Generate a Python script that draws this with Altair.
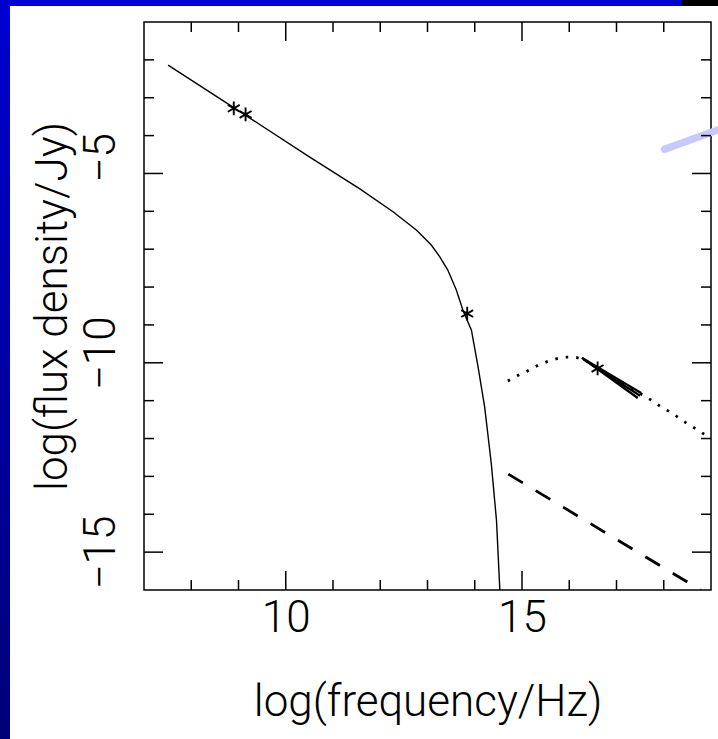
import altair as alt
import pandas as pd

# ---- data ----
# solid curve (synchrotron model)
sync_x = [7.51, 8.90, 10.50, 11.56, 12.27, 12.77, 13.08, 13.26, 13.43, 13.61, 13.75, 13.93, 14.07, 14.21, 14.35, 14.46, 14.53, 14.55]
sync_y = [-2.14, -3.26, -4.56, -5.40, -6.01, -6.50, -6.89, -7.20, -7.55, -8.08, -8.61, -9.14, -10.11, -11.17, -12.66, -14.16, -15.97, -16.30]

# dotted curve
ic_x = [14.70, 14.92, 15.11, 15.32, 15.53, 15.74, 15.95, 16.15, 16.36, 17.00, 17.74, 17.95, 18.15, 18.34, 18.51, 18.73, 18.92, 19.00]
ic_y = [-10.48, -10.33, -10.22, -10.08, -9.97, -9.89, -9.85, -9.86, -9.95, -10.43, -10.99, -11.17, -11.31, -11.47, -11.62, -11.78, -11.94, -12.00]

# dashed line
pl_x = [14.71, 18.78]
pl_y = [-12.94, -16.00]

# fan of X-ray spectral lines
bt_id = [1, 1, 2, 2, 3, 3]
bt_x = [16.27, 17.52, 16.27, 17.45, 16.30, 17.50]
bt_y = [-9.87, -10.80, -9.87, -10.93, -9.91, -10.87]

# measured points (asterisks)
star_x = [8.90, 9.15, 13.84, 16.60]
star_y = [-3.28, -3.44, -8.70, -10.15]

# light-blue pointer line (slide annotation)
ptr_x = [18.02, 19.30]
ptr_y = [-4.36, -3.78]

# ticks
xtick_minor = [8, 9, 11, 12, 13, 14, 16, 17, 18]
xtick_major = [10, 15]
ytick_minor = [-2, -3, -4, -6, -7, -8, -9, -11, -12, -13, -14]
ytick_major = [-5, -10, -15]
x_labels = [10, 15]
y_labels = [-5, -10, -15]

# ---- layout ----
W, H = 567, 568
PADL, PADT = 144, 22
FONT = "Roboto"
FS = 44
MINOR, MAJOR = 10, 19

xs = alt.Scale(domain=[7, 19], nice=False, zero=False)
ys = alt.Scale(domain=[-16, -1], nice=False, zero=False)

x_axis = alt.Axis(values=x_labels, ticks=False, domain=False, grid=False, format="d",
                  labelFont=FONT, labelFontSize=FS, labelFontWeight=300, labelColor="black",
                  labelPadding=6, title="log(frequency/Hz)", titleFont=FONT, titleFontSize=FS,
                  titleFontWeight=300, titleColor="black", titlePadding=40)
y_axis = alt.Axis(values=y_labels, ticks=False, domain=False, grid=False, format="d",
                  labelFont=FONT, labelFontSize=FS, labelFontWeight=300, labelColor="black",
                  labelAngle=-90, labelAlign="center", labelBaseline="middle", labelPadding=43,
                  labelOffset={"condition": [{"test": "datum.value == -5", "value": -16},
                                             {"test": "datum.value == -10", "value": -10}],
                               "value": 0},
                  title="log(flux density/Jy)", titleFont=FONT, titleFontSize=FS,
                  titleFontWeight=300, titleColor="black", titleAngle=-90,
                  titleAlign="center", titleBaseline="alphabetic", titleX=-78, titleY=H / 2)

X = alt.X("x:Q", scale=xs, axis=x_axis)
Y = alt.Y("y:Q", scale=ys, axis=y_axis)

one = pd.DataFrame({"a": [0]})

left_bar = alt.Chart(one).mark_rect(
    clip=False,
    color=alt.Gradient(gradient="linear", x1=0, x2=0, y1=0, y2=1,
                       stops=[alt.GradientStop(color="#0000d2", offset=0),
                              alt.GradientStop(color="#000078", offset=1)])
).encode(x=alt.value(-PADL), x2=alt.value(-PADL + 10), y=alt.value(-PADT), y2=alt.value(739 - PADT))

top_bar = alt.Chart(one).mark_rect(clip=False, color="#0000d0").encode(
    x=alt.value(-PADL), x2=alt.value(682 - PADL), y=alt.value(-PADT), y2=alt.value(-PADT + 6))
top_black = alt.Chart(one).mark_rect(clip=False, color="#000000").encode(
    x=alt.value(682 - PADL), x2=alt.value(718 - PADL), y=alt.value(-PADT), y2=alt.value(-PADT + 6))

ptr = alt.Chart(pd.DataFrame({"x": ptr_x, "y": ptr_y})).mark_line(
    color="#c8c8ff", strokeWidth=7.5, strokeCap="round", clip=False).encode(x=X, y=Y)

sync = alt.Chart(pd.DataFrame({"x": sync_x, "y": sync_y, "o": range(len(sync_x))})).mark_line(
    color="black", strokeWidth=1.4, clip=True).encode(x=X, y=Y, order="o:Q")

ic = alt.Chart(pd.DataFrame({"x": ic_x, "y": ic_y, "o": range(len(ic_x))})).mark_line(
    color="black", strokeWidth=2.8, strokeDash=[2.5, 8], clip=True).encode(x=X, y=Y, order="o:Q")

pl = alt.Chart(pd.DataFrame({"x": pl_x, "y": pl_y})).mark_line(
    color="black", strokeWidth=2.8, strokeDash=[17, 15], clip=True).encode(x=X, y=Y)

bt = alt.Chart(pd.DataFrame({"id": bt_id, "x": bt_x, "y": bt_y})).mark_line(
    color="black", strokeWidth=2.3, clip=True).encode(x=X, y=Y, detail="id:N")

star_path = "M0,-1L0,1M-0.866,-0.5L0.866,0.5M-0.866,0.5L0.866,-0.5"
stars = alt.Chart(pd.DataFrame({"x": star_x, "y": star_y})).mark_point(
    shape=star_path, size=190, filled=False, color="black", opacity=1, strokeWidth=1.9).encode(x=X, y=Y)

def xticks(vals, length):
    d = pd.DataFrame({"x": vals})
    bottom = alt.Chart(d).mark_rule(color="black", strokeWidth=1.5).encode(
        x=X, y=alt.value(H), y2=alt.value(H - length))
    top = alt.Chart(d).mark_rule(color="black", strokeWidth=1.5).encode(
        x=X, y=alt.value(0), y2=alt.value(length))
    return [bottom, top]

def yticks(vals, length):
    d = pd.DataFrame({"y": vals})
    left = alt.Chart(d).mark_rule(color="black", strokeWidth=1.5).encode(
        y=Y, x=alt.value(0), x2=alt.value(length))
    right = alt.Chart(d).mark_rule(color="black", strokeWidth=1.5).encode(
        y=Y, x=alt.value(W), x2=alt.value(W - length))
    return [left, right]

layers = [left_bar, top_bar, top_black, ptr, sync, ic, pl, bt, stars]
layers += xticks(xtick_minor, MINOR) + xticks(xtick_major, MAJOR)
layers += yticks(ytick_minor, MINOR) + yticks(ytick_major, MAJOR)

chart = alt.layer(*layers).properties(
    width=W, height=H,
    autosize=alt.AutoSizeParams(type="none"),
    padding={"left": PADL, "top": PADT, "right": 718 - PADL - W, "bottom": 739 - PADT - H},
    background="white",
).configure_view(stroke="black", strokeWidth=1.5)

chart.save("out.html", embed_options={"renderer": "svg", "actions": False})
